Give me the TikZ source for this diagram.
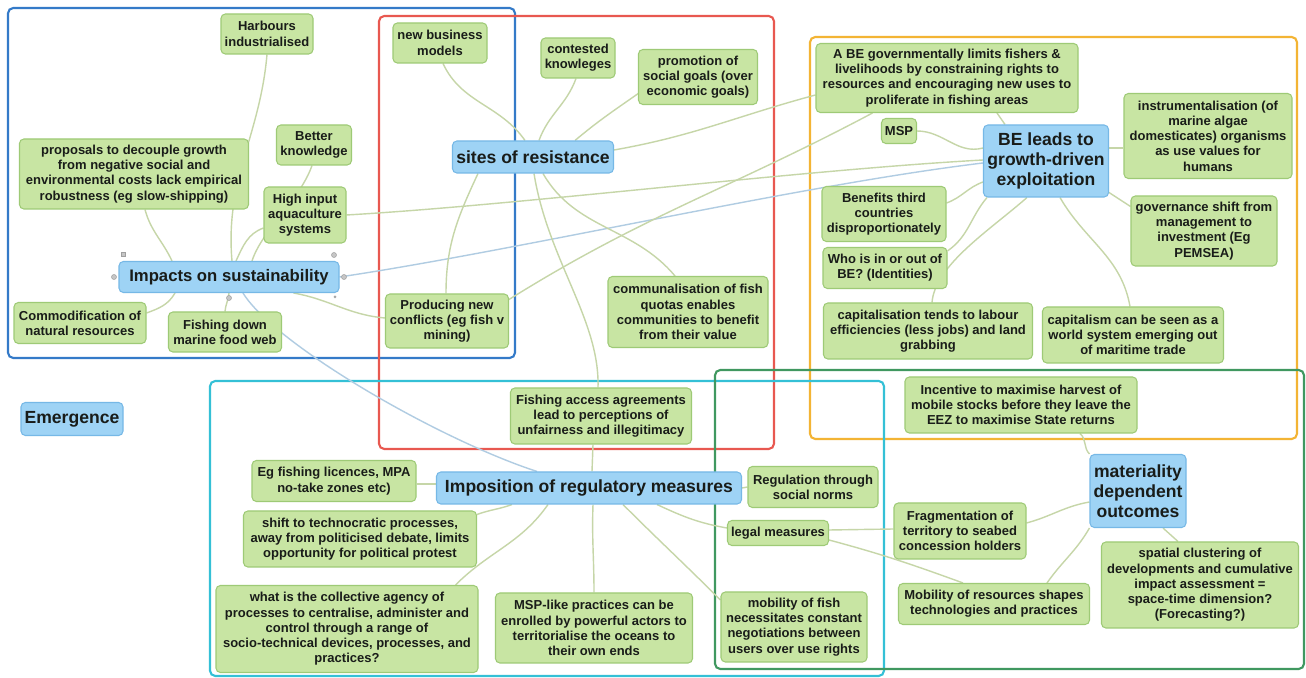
\documentclass[tikz,border=0pt]{standalone}
\usepackage{fontspec}
\setsansfont{Liberation Sans}
\usetikzlibrary{calc}

\definecolor{leaffill}{RGB}{200,229,163}
\definecolor{leafline}{RGB}{158,202,118}
\definecolor{hubfill}{RGB}{158,211,245}
\definecolor{hubline}{RGB}{118,184,230}
\definecolor{txt}{RGB}{25,28,25}
\definecolor{lkgreen}{RGB}{198,214,168}
\definecolor{lkblue}{RGB}{176,204,226}
\definecolor{fblue}{RGB}{52,122,200}
\definecolor{fred}{RGB}{232,88,80}
\definecolor{forange}{RGB}{243,180,52}
\definecolor{fcyan}{RGB}{52,192,214}
\definecolor{fgreen}{RGB}{64,152,96}

\newcommand\leaffont{\fontsize{7.4}{8.7}\selectfont\sffamily\bfseries}
\newcommand\hubfont{\fontsize{10}{11.3}\selectfont\sffamily\bfseries}

\pgfdeclarelayer{bg}
\pgfsetlayers{bg,main}

\begin{document}
\begin{tikzpicture}[x=0.02cm,y=0.02cm,
  leaf/.style={draw=leafline, fill=leaffill, rounded corners=2.5pt, line width=0.6pt,
    font=\leaffont, align=center, inner sep=1pt, text=txt},
  hub/.style={draw=hubline, fill=hubfill, rounded corners=2.5pt, line width=0.6pt,
    font=\hubfont, align=center, inner sep=1pt, text=txt},
  sz/.style 2 args={minimum width=#1*0.02cm, minimum height=#2*0.02cm},
  conn/.style={draw=lkgreen, line width=0.8pt},
  xlink/.style={draw=lkblue, line width=0.8pt},
  frame/.style={line width=1.2pt, rounded corners=3pt},
  handle/.style={fill=gray!45, draw=gray!75, line width=0.3pt}]

\useasboundingbox (0,0) rectangle (1306,-678);

% ---- topics: Impacts on sustainability
\node[leaf, sz={92}{40}]  (harb)      at (267,-34)  {Harbours\\industrialised};
\node[leaf, sz={229}{70}] (prop)      at (134,-174) {proposals to decouple growth\\from negative social and\\environmental costs lack empirical\\robustness (eg slow-shipping)};
\node[leaf, sz={75}{40}]  (better)    at (314,-145) {Better\\knowledge};
\node[leaf, sz={82}{56}]  (high)      at (305,-215) {High input\\aquaculture\\systems};
\node[hub,  sz={220}{31}] (impacts)   at (229,-277) {\fontsize{9.5}{11}\selectfont Impacts on sustainability};
\node[leaf, sz={132}{41}] (commod)    at (80,-323)  {Commodification of\\natural resources};
\node[leaf, sz={113}{40}] (fishdown)  at (225,-332) {Fishing down\\marine food web};
\node[leaf, sz={123}{54}] (producing) at (447,-321) {Producing new\\conflicts (eg fish v\\mining)};

% ---- sites of resistance
\node[leaf, sz={94}{40}]  (newbiz)    at (440,-43)  {new business\\models};
\node[leaf, sz={74}{40}]  (contested) at (578,-58)  {contested\\knowleges};
\node[leaf, sz={119}{55}] (promo)     at (698,-77)  {promotion of\\social goals (over\\economic goals)};
\node[hub,  sz={161}{32}] (sites)     at (533,-157) {sites of resistance};
\node[leaf, sz={160}{71}] (commun)    at (688,-312) {communalisation of fish\\quotas enables\\communities to benefit\\from their value};
\node[leaf, sz={181}{56}] (access)    at (601,-416) {Fishing access agreements\\lead to perceptions of\\unfairness and illegitimacy};

% ---- BE leads to growth-driven exploitation
\node[leaf, sz={262}{69}] (abe)       at (947,-78)  {A BE governmentally limits fishers \&\\livelihoods by constraining rights to\\resources and encouraging new uses to\\proliferate in fishing areas};
\node[leaf, sz={35}{25}]  (msp)       at (899,-131) {MSP};
\node[hub,  sz={125}{72}] (beleads)   at (1046,-161) {BE leads to\\growth-driven\\exploitation};
\node[leaf, sz={168}{85}] (instr)     at (1208,-136) {instrumentalisation (of\\marine algae\\domesticates) organisms\\as use values for\\humans};
\node[leaf, sz={124}{55}] (benefits)  at (884,-214) {Benefits third\\countries\\disproportionately};
\node[leaf, sz={146}{70}] (gov)       at (1204,-231) {governance shift from\\management to\\investment (Eg\\PEMSEA)};
\node[leaf, sz={124}{41}] (whois)     at (885,-268) {Who is in or out of\\BE? (Identities)};
\node[leaf, sz={209}{56}] (capit)     at (928,-331) {capitalisation tends to labour\\efficiencies (less jobs) and land\\grabbing};
\node[leaf, sz={181}{56}] (capsys)    at (1133,-335) {capitalism can be seen as a\\world system emerging out\\of maritime trade};
\node[leaf, sz={232}{56}] (incent)    at (1021,-405) {Incentive to maximise harvest of\\mobile stocks before they leave the\\EEZ to maximise State returns};

% ---- materiality dependent outcomes
\node[hub,  sz={96}{73}]  (mater)     at (1138,-491) {materiality\\dependent\\outcomes};
\node[leaf, sz={132}{56}] (frag)      at (960,-531) {Fragmentation of\\territory to seabed\\concession holders};
\node[leaf, sz={191}{41}] (mobres)    at (994,-604) {Mobility of resources shapes\\technologies and practices};
\node[leaf, sz={197}{86}] (spatial)   at (1200,-585) {spatial clustering of\\developments and cumulative\\impact assessment =\\space-time dimension?\\(Forecasting?)};

% ---- Emergence
\node[hub,  sz={102}{33}] (emerg)     at (72,-419)  {Emergence};

% ---- Imposition of regulatory measures
\node[hub,  sz={305}{32}] (impos)     at (589,-488) {Imposition of regulatory measures};
\node[leaf, sz={164}{41}] (egfish)    at (334,-481) {Eg fishing licences, MPA\\no-take zones etc)};
\node[leaf, sz={233}{56}] (shift)     at (360,-539) {shift to technocratic processes,\\away from politicised debate, limits\\opportunity for political protest};
\node[leaf, sz={262}{87}] (whatis)    at (347,-629) {what is the collective agency of\\processes to centralise, administer and\\control through a range of\\socio-technical devices, processes, and\\practices?};
\node[leaf, sz={197}{70}] (msplike)   at (594,-628) {MSP-like practices can be\\enrolled by powerful actors to\\territorialise the oceans to\\their own ends};
\node[leaf, sz={146}{70}] (mobfish)   at (794,-627) {mobility of fish\\necessitates constant\\negotiations between\\users over use rights};
\node[leaf, sz={130}{41}] (regul)     at (813,-487) {Regulation through\\social norms};
\node[leaf, sz={101}{25}] (legal)     at (778,-533) {legal measures};

% selection handles round the Impacts topic
\foreach \p in {(114,-277),(344,-277),(334,-255),(229,-298)}
  \filldraw[handle] \p circle[radius=0.05cm];
\filldraw[handle] (121,-256) rectangle (125,-252);
\fill[gray!70] (335,-297) circle[radius=0.03cm];

\begin{pgfonlayer}{bg}
  \fill[white] (0,0) rectangle (1306,-678);
  % group frames
  \draw[frame, fblue]   (8,-8)     rectangle (515,-358);
  \draw[frame, fred]    (379,-16)  rectangle (774,-449);
  \draw[frame, forange] (810,-37)  rectangle (1297,-439);
  \draw[frame, fcyan]   (210,-381) rectangle (884,-676);
  \draw[frame, fgreen]  (715,-370) rectangle (1304,-669);

  % Impacts on sustainability
  \draw[conn] (harb.south) to[out=-95,in=95] ($(impacts.north)+(3,0)$);
  \draw[conn] ($(prop.south)+(11,0)$) to[out=-75,in=115] ($(impacts.north)+(-57,0)$);
  \draw[conn] ($(better.south)+(-2,0)$) .. controls (300,-200) and (262,-230) .. ($(impacts.north)+(23,0)$);
  \draw[conn] ($(high.west)+(0,-13)$) to[out=200,in=65] ($(impacts.north)+(7,0)$);
  \draw[conn] ($(commod.east)+(0,10)$) to[out=20,in=-120] ($(impacts.south)+(-54,0)$);
  \draw[conn] (fishdown.north) to[out=85,in=-95] (impacts.south);
  \draw[conn] ($(impacts.south east)+(-46,0)$) to[out=-10,in=175] ($(producing.west)+(0,3)$);
  \draw[xlink] ($(impacts.south)+(14,0)$) .. controls (275,-345) and (440,-440) .. ($(impos.north)+(-52,0)$);
  \draw[xlink] (impacts.east) .. controls (520,-250) and (800,-185) .. ($(beleads.west)+(0,-2)$);
  \draw[conn] (high.east) .. controls (520,-205) and (800,-170) .. ($(beleads.west)+(0,1)$);

  % sites of resistance
  \draw[conn] ($(newbiz.south)+(3,0)$) to[out=-65,in=125] ($(sites.north)+(-8,0)$);
  \draw[conn] ($(contested.south)+(-2,0)$) to[out=-110,in=70] ($(sites.north)+(6,0)$);
  \draw[conn] ($(promo.west)+(1,-16)$) to[out=215,in=40] ($(sites.north)+(42,0)$);
  \draw[conn] ($(sites.east)+(0,7)$) to[out=10,in=195] ($(abe.west)+(0,-17)$);
  \draw[conn] ($(sites.south)+(-55,0)$) to[out=-115,in=90] ($(producing.north)+(-1,0)$);
  \draw[conn] ($(sites.south)+(1,0)$) .. controls (548,-260) and (600,-320) .. ($(access.north)+(-3,0)$);
  \draw[conn] ($(access.south)+(-8,0)$) -- ($(impos.north)+(3,0)$);
  \draw[conn] ($(sites.south)+(10,0)$) to[out=-60,in=130] ($(commun.north)+(-13,0)$);
  \draw[conn] ($(abe.south west)+(57,0)$) to[out=208,in=32] ($(producing.north east)+(0,-6)$);

  % BE leads to growth-driven exploitation
  \draw[conn] ($(abe.south)+(50,0)$) -- ($(beleads.north)+(-41,0)$);
  \draw[conn] (msp.east) to[out=0,in=195] ($(beleads.west)+(0,13)$);
  \draw[conn] ($(beleads.east)+(0,13)$) -- ($(instr.west)+(0,-12)$);
  \draw[conn] ($(beleads.south east)+(0,5)$) -- ($(gov.north west)+(0,-11)$);
  \draw[conn] ($(beleads.west)+(0,-21)$) to[out=200,in=20] ($(benefits.east)+(0,11)$);
  \draw[conn] ($(beleads.south west)+(4,0)$) to[out=-130,in=35] ($(whois.north east)+(0,-4)$);
  \draw[conn] ($(beleads.south)+(-19,0)$) .. controls (990,-230) and (935,-265) .. ($(capit.north)+(4,0)$);
  \draw[conn] ($(beleads.south)+(14,0)$) to[out=-60,in=100] ($(capsys.north)+(-3,0)$);
  \draw[conn] ($(incent.south)+(59,0)$) to[out=-40,in=135] (mater.north west);

  % materiality dependent outcomes
  \draw[conn] ($(mater.west)+(0,-11)$) to[out=190,in=15] ($(frag.east)+(0,8)$);
  \draw[conn] (mater.south west) to[out=-120,in=55] ($(mobres.north)+(53,0)$);
  \draw[conn] ($(mater.south)+(25,0)$) -- ($(spatial.north)+(-22,0)$);
  \draw[conn] ($(legal.east)+(0,3)$) -- ($(frag.west)+(0,2)$);
  \draw[conn] ($(legal.east)+(0,-7)$) to[out=-15,in=160] ($(mobres.north)+(-31,0)$);

  % Imposition of regulatory measures
  \draw[conn] ($(egfish.east)+(0,-3)$) -- ($(impos.west)+(0,4)$);
  \draw[conn] ($(impos.south)+(-77,0)$) to[out=200,in=20] ($(shift.north east)+(0,-4)$);
  \draw[conn] ($(impos.south)+(-41,0)$) to[out=-125,in=45] ($(whatis.north east)+(-23,0)$);
  \draw[conn] ($(impos.south)+(4,0)$) to[out=-92,in=90] (msplike.north);
  \draw[conn] ($(impos.south)+(34,0)$) to[out=-45,in=135] ($(mobfish.west)+(0,27)$);
  \draw[conn] ($(impos.south)+(68,0)$) to[out=-25,in=170] ($(legal.west)+(0,5)$);
  \draw[conn] (impos.east) -- (regul.west);
\end{pgfonlayer}
\end{tikzpicture}
\end{document}
